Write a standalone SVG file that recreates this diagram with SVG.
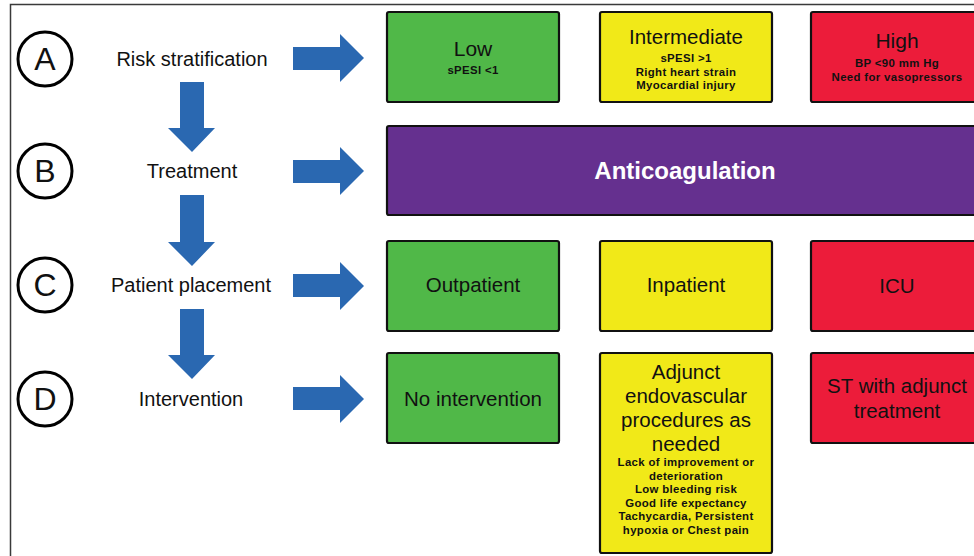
<svg xmlns="http://www.w3.org/2000/svg" width="974" height="556" viewBox="0 0 974 556">
<defs>
<style>
text{font-family:"Liberation Sans","DejaVu Sans",sans-serif;fill:#111;text-anchor:middle}
.lbl{font-size:20px}
.circ{fill:none;stroke:#000;stroke-width:3}
.cl{font-size:32px}
.box{stroke:#111;stroke-width:2.2}
.g{fill:#50b848}.y{fill:#f1e918}.r{fill:#ec1c3a}.p{fill:#65308f}
.big{font-size:20.5px}
.sm{font-size:11.4px;font-weight:bold;letter-spacing:0.35px}
.arr{fill:#2a68b1}
</style>
</defs>
<rect width="974" height="556" fill="#fff"/>
<path d="M10.5 556 V4.5 H974" fill="none" stroke="#3a3a3a" stroke-width="1.5"/>
<g id="rowA-label"><circle class="circ" cx="45" cy="59" r="27"/><text class="cl" x="45" y="70">A</text><text class="lbl" x="192" y="66">Risk stratification</text></g>
<g id="rowB-label"><circle class="circ" cx="45" cy="171" r="27"/><text class="cl" x="45" y="182">B</text><text class="lbl" x="192" y="178">Treatment</text></g>
<g id="rowC-label"><circle class="circ" cx="45" cy="285" r="27"/><text class="cl" x="45" y="296">C</text><text class="lbl" x="191" y="292">Patient placement</text></g>
<g id="rowD-label"><circle class="circ" cx="45" cy="399" r="27"/><text class="cl" x="45" y="410">D</text><text class="lbl" x="191" y="406">Intervention</text></g>
<g id="connectors">
<path class="arr" d="M293 47 H340 V34 L364 58 L340 82 V70 H293 Z"/>
<path class="arr" d="M293 160 H340 V147 L364 171 L340 195 V183 H293 Z"/>
<path class="arr" d="M293 274 H340 V262 L364 286 L340 310 V297 H293 Z"/>
<path class="arr" d="M293 387 H340 V375 L364 399 L340 423 V410 H293 Z"/>
<path class="arr" d="M180 82 H204 V128 H215 L192 152 L168 128 H180 Z"/>
<path class="arr" d="M180 195 H204 V242 H215 L192 266 L168 242 H180 Z"/>
<path class="arr" d="M180 309 H204 V355 H215 L192 379 L168 355 H180 Z"/>
</g>
<g id="low"><rect class="box g" x="387" y="12" width="172" height="90" rx="2"/><text class="big" x="473" y="56" style="font-size:21px">Low</text><text class="sm" x="473" y="74">sPESI &lt;1</text></g>
<g id="intermediate"><rect class="box y" x="600" y="12" width="172" height="90" rx="2"/><text class="big" x="686" y="44">Intermediate</text><text class="sm" x="686" y="62">sPESI &gt;1</text><text class="sm" x="686" y="75.5">Right heart strain</text><text class="sm" x="686" y="89">Myocardial injury</text></g>
<g id="high"><rect class="box r" x="811" y="12" width="172" height="90" rx="2"/><text class="big" x="897" y="48" style="font-size:21px">High</text><text class="sm" x="897" y="67">BP &lt;90 mm Hg</text><text class="sm" x="897" y="81">Need for vasopressors</text></g>
<g id="anticoagulation"><rect class="box p" x="387" y="126" width="600" height="89" rx="2"/><text x="685" y="179" style="font-size:24px;font-weight:bold;fill:#fff">Anticoagulation</text></g>
<g id="outpatient"><rect class="box g" x="387" y="241" width="172" height="90" rx="2"/><text class="big" x="473" y="292">Outpatient</text></g>
<g id="inpatient"><rect class="box y" x="600" y="241" width="172" height="90" rx="2"/><text class="big" x="686" y="292">Inpatient</text></g>
<g id="icu"><rect class="box r" x="811" y="241" width="172" height="90" rx="2"/><text class="big" x="897" y="293">ICU</text></g>
<g id="no-intervention"><rect class="box g" x="387" y="353" width="172" height="90" rx="2"/><text class="big" x="473" y="406">No intervention</text></g>
<g id="adjunct"><rect class="box y" x="600" y="353" width="172" height="200" rx="2"/>
<text class="big" x="686" y="379">Adjunct</text><text class="big" x="686" y="403">endovascular</text><text class="big" x="686" y="427">procedures as</text><text class="big" x="686" y="451">needed</text>
<text class="sm" x="686" y="466">Lack of improvement or</text><text class="sm" x="686" y="479.5">deterioration</text><text class="sm" x="686" y="493">Low bleeding risk</text><text class="sm" x="686" y="506.5">Good life expectancy</text><text class="sm" x="686" y="520">Tachycardia, Persistent</text><text class="sm" x="686" y="533.5">hypoxia or Chest pain</text></g>
<g id="st"><rect class="box r" x="811" y="353" width="172" height="90" rx="2"/><text class="big" x="897" y="393">ST with adjunct</text><text class="big" x="897" y="418">treatment</text></g>
</svg>
